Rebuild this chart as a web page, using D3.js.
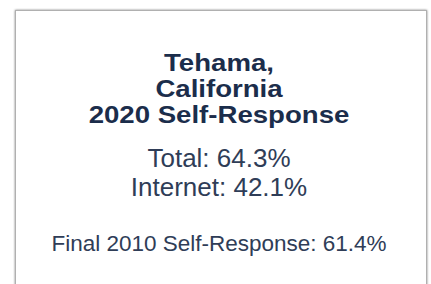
<!DOCTYPE html>
<html>
<head>
<meta charset="utf-8">
<script src="https://cdn.jsdelivr.net/npm/d3@7"></script>
<style>
  html, body { margin: 0; padding: 0; background: #fff; }
  svg { display: block; }
</style>
</head>
<body>
<svg id="chart" width="431" height="284"></svg>
<script>
// Data
const titleLines = ["Tehama,", "California", "2020 Self-Response"];
const metricLabels = ["Total", "Internet"];
const metricValues = [64.3, 42.1];
const finalLabel = ["Final 2010 Self-Response"];
const finalValue = [61.4];

const W = 431, H = 284;
const svg = d3.select("#chart");
const defs = svg.append("defs");
const f = defs.append("filter").attr("id", "sh").attr("x", "-5%").attr("y", "-5%").attr("width", "110%").attr("height", "110%");
f.append("feDropShadow").attr("dx", 0).attr("dy", 0).attr("stdDeviation", 1.3).attr("flood-color", "#000").attr("flood-opacity", 0.5);

// card
svg.append("rect")
  .attr("x", 15.5).attr("y", 10.5)
  .attr("width", 411).attr("height", 300)
  .attr("fill", "#fff")
  .attr("stroke", "#b0b0b0").attr("stroke-width", 1)
  .attr("filter", "url(#sh)");

const cx = 219;
const fmt = d3.format(".1f");
const font = "Liberation Sans, Arial, Helvetica, sans-serif";

// title lines
const yTitle = d3.scalePoint().domain(d3.range(titleLines.length)).range([71, 123]);
svg.append("g").selectAll("text").data(titleLines).join("text")
  .attr("transform", (d, i) => `translate(${cx},${yTitle(i)}) scale(1.2,1)`)
  .attr("text-anchor", "middle")
  .attr("font-family", font)
  .attr("font-weight", "bold")
  .attr("font-size", 23)
  .attr("fill", "#1b2d4b")
  .text(d => d);

const yMetric = d3.scalePoint().domain(d3.range(metricLabels.length)).range([167, 196]);
svg.append("g").selectAll("text").data(metricLabels).join("text")
  .attr("x", cx).attr("y", (d, i) => yMetric(i))
  .attr("text-anchor", "middle")
  .attr("font-family", font)
  .attr("font-size", 26)
  .attr("fill", "#2f3d57")
  .text((d, i) => `${d}: ${fmt(metricValues[i])}%`);

svg.append("g").selectAll("text").data(finalLabel).join("text")
  .attr("x", cx).attr("y", 251)
  .attr("text-anchor", "middle")
  .attr("font-family", font)
  .attr("font-size", 22.5)
  .attr("fill", "#2f3d57")
  .text((d, i) => `${d}: ${fmt(finalValue[i])}%`);
</script>
</body>
</html>
